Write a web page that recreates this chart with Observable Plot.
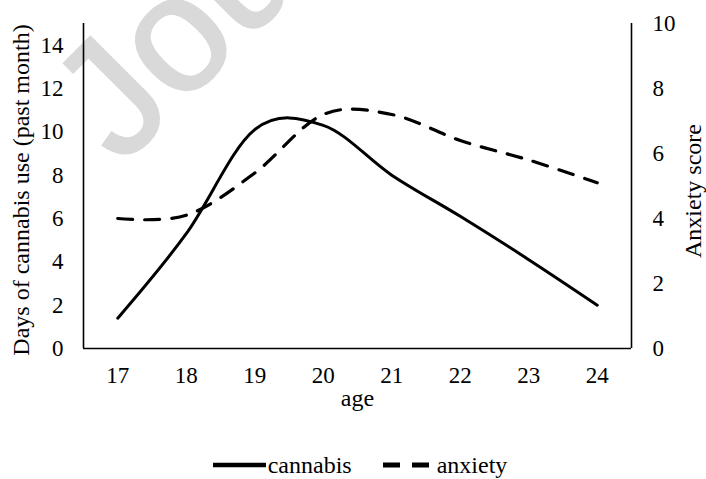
<!DOCTYPE html>
<html>
<head>
<meta charset="utf-8">
<script src="https://cdn.jsdelivr.net/npm/d3@7"></script>
<script src="https://cdn.jsdelivr.net/npm/@observablehq/plot@0.6"></script>
<style>
  html, body { margin: 0; padding: 0; background: #fff; }
  #chart { width: 706px; }
  .legend { height: 28px; padding-top: 21px; display: flex; align-items: center; justify-content: center;
    font-family: "Liberation Serif", "Times New Roman", serif; font-size: 24px; color: #000; padding-left: 14px; }
  .legend svg { display: block; }
</style>
</head>
<body>
<div id="chart"></div>
<script>
const ages = [17, 18, 19, 20, 21, 22, 23, 24];
const cannabis = [1.4, 5.3, 10.1, 10.3, 8.0, 6.1, 4.1, 2.0];
const anxiety = [4.0, 4.1, 5.4, 7.2, 7.2, 6.4, 5.8, 5.1];
const leftTicks = [0, 2, 4, 6, 8, 10, 12, 14];
const rightTicks = [0, 2, 4, 6, 8, 10];
const seriesNames = ["cannabis", "anxiety"];
const leftTitle = "Days of cannabis use (past month)";
const rightTitle = "Anxiety score";
const xTitle = "age";
const watermark = "Journal Pre-proof";

const ratio = 15 / 10; // left domain max / right domain max
const cannabisData = ages.map((a, i) => ({age: a, value: cannabis[i]}));
const anxietyData = ages.map((a, i) => ({age: a, value: anxiety[i]}));
const curve = d3.curveCatmullRom.alpha(0);

const chart = Plot.plot({
  width: 706,
  height: 430,
  marginLeft: 83,
  marginRight: 75,
  marginTop: 23,
  marginBottom: 82,
  style: {fontFamily: "'Liberation Serif', 'Times New Roman', serif", fontSize: "23px", color: "#000", background: "#fff"},
  x: {domain: [16.5, 24.5]},
  y: {domain: [0, 15]},
  marks: [
    Plot.axisX(ages, {tickSize: 0, tickPadding: 18, label: null, fontSize: 23}),
    Plot.axisY(leftTicks, {anchor: "left", tickSize: 0, tickPadding: 20, label: null, fontSize: 23}),
    Plot.axisY(rightTicks.map(d => d * ratio), {anchor: "right", tickSize: 0, tickPadding: 21, label: null, fontSize: 23,
      tickFormat: d => String(Math.round(d / ratio))}),
    Plot.ruleX([16.5, 24.5], {stroke: "#000", strokeWidth: 1.6}),
    Plot.ruleY([0], {stroke: "#000", strokeWidth: 1.6}),
    Plot.line(anxietyData, {x: "age", y: d => d.value * ratio, curve, stroke: "#000", strokeWidth: 3.2, strokeDasharray: "15,12"}),
    Plot.line(cannabisData, {x: "age", y: "value", curve, stroke: "#000", strokeWidth: 3}),
    Plot.text([leftTitle], {frameAnchor: "left", textAnchor: "middle", dx: -62, dy: 4, rotate: -90, fontSize: 24}),
    Plot.text([rightTitle], {frameAnchor: "right", textAnchor: "middle", dx: 62, dy: 5, rotate: -90, fontSize: 24}),
    Plot.text([xTitle], {frameAnchor: "bottom", dy: 57, fontSize: 24})
  ]
});

// watermark behind everything
d3.select(chart).insert("text", ":first-child")
  .attr("x", 121).attr("y", 167)
  .attr("transform", "rotate(-45, 121, 167)")
  .attr("text-anchor", "start")
  .attr("font-family", "'Liberation Sans', Arial, sans-serif")
  .attr("font-size", 165)
  .attr("fill", "#d9d9d9")
  .attr("stroke", "#d9d9d9")
  .attr("stroke-width", 2.5)
  .text(watermark);

document.getElementById("chart").appendChild(chart);

// legend
const legend = d3.select("body").append("div").attr("class", "legend");
const s1 = legend.append("svg").attr("width", 53).attr("height", 10);
s1.append("line").attr("x1", 0).attr("x2", 53).attr("y1", 5).attr("y2", 5).attr("stroke", "#000").attr("stroke-width", 4.5);
legend.append("span").text(seriesNames[0]).style("margin-left", "2px").style("margin-right", "31px");
const s2 = legend.append("svg").attr("width", 46).attr("height", 10);
s2.append("line").attr("x1", 0).attr("x2", 46).attr("y1", 5).attr("y2", 5).attr("stroke", "#000").attr("stroke-width", 5).attr("stroke-dasharray", "17,12");
legend.append("span").text(seriesNames[1]).style("margin-left", "8px");
</script>
</body>
</html>
